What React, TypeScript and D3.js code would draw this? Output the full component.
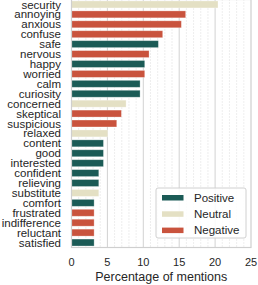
import React, { useEffect, useRef } from 'react';
import * as d3 from 'd3';

const WORDS: string[] = [
  'security', 'annoying', 'anxious', 'confuse', 'safe', 'nervous', 'happy', 'worried',
  'calm', 'curiosity', 'concerned', 'skeptical', 'suspicious', 'relaxed', 'content', 'good',
  'interested', 'confident', 'relieving', 'substitute', 'comfort', 'frustrated', 'indifference',
  'reluctant', 'satisfied',
];
const PERCENT: number[] = [
  20.4, 15.9, 15.3, 12.7, 12.1, 10.8, 10.2, 10.2,
  9.55, 9.55, 7.6, 6.95, 6.3, 5.05, 4.45, 4.45,
  4.45, 3.8, 3.8, 3.8, 3.15, 3.15, 3.15,
  3.15, 3.15,
];
const SENTIMENT: string[] = [
  'Neutral', 'Negative', 'Negative', 'Negative', 'Positive', 'Negative', 'Positive', 'Negative',
  'Positive', 'Positive', 'Neutral', 'Negative', 'Negative', 'Neutral', 'Positive', 'Positive',
  'Positive', 'Positive', 'Positive', 'Neutral', 'Positive', 'Negative', 'Negative',
  'Negative', 'Positive',
];
const LEGEND: string[] = ['Positive', 'Neutral', 'Negative'];
const COLORS: string[] = ['#1b5b56', '#e4e0c4', '#c9533d'];
const X_TICKS: number[] = [0, 5, 10, 15, 20, 25];

const FONT = 'Liberation Sans, Arial, Helvetica, sans-serif';

const App: React.FC = () => {
  const ref = useRef<SVGSVGElement>(null);

  useEffect(() => {
    const svgEl = ref.current;
    if (!svgEl) return;

    const W = 258;
    const H = 285;
    const margin = { top: -0.5, right: 7, bottom: 37.5, left: 71.5 };
    const width = W - margin.left - margin.right;
    const height = H - margin.top - margin.bottom;

    const svg = d3.select(svgEl).attr('width', W).attr('height', H).attr('viewBox', `0 0 ${W} ${H}`);
    svg.selectAll('*').remove();
    const g = svg.append('g').attr('transform', `translate(${margin.left},${margin.top})`);

    const x = d3.scaleLinear().domain([0, 25]).range([0, width]);
    const y = d3.scaleBand().domain(WORDS).range([0, height]).paddingInner(0.3).paddingOuter(0.15);
    const color = d3.scaleOrdinal<string, string>().domain(LEGEND).range(COLORS);

    // minor dotted grid
    g.selectAll('line.minor')
      .data(d3.range(1, 25).filter((v) => v % 5 !== 0))
      .join('line')
      .attr('class', 'minor')
      .attr('x1', (d) => x(d))
      .attr('x2', (d) => x(d))
      .attr('y1', 0)
      .attr('y2', height)
      .attr('stroke', '#d4d4d4')
      .attr('stroke-width', 0.8)
      .attr('stroke-dasharray', '1 2');

    // major grid
    g.selectAll('line.major')
      .data(X_TICKS.slice(1, -1))
      .join('line')
      .attr('class', 'major')
      .attr('x1', (d) => x(d))
      .attr('x2', (d) => x(d))
      .attr('y1', 0)
      .attr('y2', height)
      .attr('stroke', '#d2d2d2')
      .attr('stroke-width', 1);

    g.selectAll('rect.bar')
      .data(WORDS)
      .join('rect')
      .attr('class', 'bar')
      .attr('x', x(0))
      .attr('y', (d) => y(d) ?? 0)
      .attr('width', (_, i) => x(PERCENT[i]) - x(0))
      .attr('height', y.bandwidth())
      .attr('fill', (_, i) => color(SENTIMENT[i]))
      .attr('stroke', '#ffffff')
      .attr('stroke-opacity', 0.35)
      .attr('stroke-width', 0.8);

    // frame
    g.append('rect')
      .attr('x', 0)
      .attr('y', 0)
      .attr('width', width)
      .attr('height', height)
      .attr('fill', 'none')
      .attr('stroke', '#cfcfcf')
      .attr('stroke-width', 1.2);

    g.selectAll('text.cat')
      .data(WORDS)
      .join('text')
      .attr('class', 'cat')
      .attr('x', -10.5)
      .attr('y', (d) => (y(d) ?? 0) + y.bandwidth() / 2)
      .attr('dy', '0.35em')
      .attr('text-anchor', 'end')
      .attr('fill', '#262626')
      .attr('font-family', FONT)
      .attr('font-size', 11.5)
      .text((d) => d);

    g.selectAll('text.tick')
      .data(X_TICKS)
      .join('text')
      .attr('class', 'tick')
      .attr('x', (d) => x(d))
      .attr('y', 262.5 - margin.top)
      .attr('dy', '0.35em')
      .attr('text-anchor', 'middle')
      .attr('fill', '#262626')
      .attr('font-family', FONT)
      .attr('font-size', 11)
      .text((d) => d);

    g.append('text')
      .attr('x', width / 2)
      .attr('y', 277 - margin.top)
      .attr('dy', '0.35em')
      .attr('text-anchor', 'middle')
      .attr('fill', '#262626')
      .attr('font-family', FONT)
      .attr('font-size', 12.5)
      .text('Percentage of mentions');

    // legend
    const lg = g.append('g').attr('transform', `translate(${156 - margin.left},${188 - margin.top})`);
    lg.append('rect')
      .attr('width', 90)
      .attr('height', 50)
      .attr('rx', 2)
      .attr('fill', '#ffffff')
      .attr('fill-opacity', 0.85)
      .attr('stroke', '#d0d0d0')
      .attr('stroke-width', 1);
    const items = lg
      .selectAll('g.item')
      .data(LEGEND)
      .join('g')
      .attr('class', 'item')
      .attr('transform', (_, i) => `translate(6,${9.5 + i * 16.3})`);
    items
      .append('rect')
      .attr('x', 0)
      .attr('y', -2.5)
      .attr('width', 21.5)
      .attr('height', 5.5)
      .attr('fill', (d) => color(d));
    items
      .append('text')
      .attr('x', 32)
      .attr('y', 0)
      .attr('dy', '0.35em')
      .attr('fill', '#262626')
      .attr('font-family', FONT)
      .attr('font-size', 11.5)
      .text((d) => d);
  }, []);

  return (
    <svg
      ref={ref}
      style={{ position: 'absolute', left: 0, top: 0, display: 'block' }}
      aria-label="Percentage of mentions by word and sentiment"
    />
  );
};

export default App;
